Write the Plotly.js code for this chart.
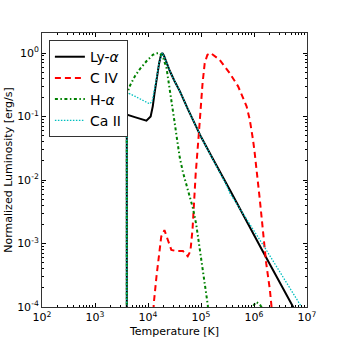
<!DOCTYPE html>
<html>
<head>
<meta charset="utf-8">
<script src="https://cdn.plot.ly/plotly-3.0.1.min.js"></script>
<style>html,body{margin:0;padding:0;background:#fff;}#chart{width:342px;height:342px;}</style>
</head>
<body>
<div id="chart"></div>
<script>
// Values, stored as log10(T [K]) and log10(L)
var lyaLogT  = [3.6, 3.6, 3.75, 3.9, 3.97, 4.05, 4.09, 4.12, 4.16, 4.21, 4.24, 4.27, 4.3, 4.35, 4.41, 4.5, 4.6, 4.75, 4.91, 5.0, 5.2, 5.48, 5.54, 6.17, 6.735, 7.0];
var lyaLogL  = [-8, -0.97, -1.01, -1.05, -1.066, -1.0, -0.84, -0.65, -0.42, -0.16, -0.05, 0, -0.04, -0.15, -0.28, -0.44, -0.6, -0.88, -1.18, -1.32, -1.63, -2.05, -2.15, -3.13, -3.99, -4.4];

var civLogT  = [4.08, 4.107, 4.16, 4.21, 4.25, 4.31, 4.38, 4.44, 4.53, 4.66, 4.75, 4.80, 4.84, 4.86, 4.9, 4.96, 4.99, 5.03, 5.07, 5.12, 5.18, 5.35, 5.54, 5.70, 5.86, 5.92, 5.98, 6.01, 6.11, 6.17, 6.23, 6.3, 6.33, 6.36];
var civLogL  = [-8, -3.96, -3.52, -3.15, -2.89, -2.79, -2.94, -3.10, -3.12, -3.12, -3.2, -3.12, -2.78, -2.47, -1.9, -1.26, -0.84, -0.47, -0.16, -0.03, 0, -0.105, -0.315, -0.525, -0.84, -1.05, -1.36, -1.55, -2.31, -2.78, -3.31, -3.73, -3.99, -8];

var haLogT   = [3.6, 3.6, 3.65, 3.75, 3.84, 3.97, 4.09, 4.16, 4.22, 4.28, 4.35, 4.41, 4.46, 4.50, 4.55, 4.6, 4.66, 4.72, 4.79, 4.85, 4.91, 4.975, 5.04, 5.1, 5.13, 5.16, 5.9, 5.97, 6.01, 6.04, 6.08, 6.11, 6.14, 6.2];
var haLogL   = [-8, -0.66, -0.53, -0.37, -0.26, -0.13, -0.03, -0.005, 0, -0.06, -0.24, -0.55, -0.86, -1.08, -1.37, -1.65, -1.88, -2.05, -2.25, -2.45, -2.7, -3.1, -3.5, -3.85, -3.98, -8, -8, -4.0, -3.95, -3.92, -3.94, -3.96, -4.0, -8];

var caLogT   = [3.6, 3.6, 3.75, 3.9, 4.03, 4.08, 4.12, 4.16, 4.21, 4.27, 4.3, 4.35, 4.41, 4.5, 4.6, 4.75, 4.91, 5.0, 5.2, 5.48, 5.54, 6.23, 6.89, 7.0];
var caLogL   = [-8, -0.62, -0.68, -0.75, -0.80, -0.76, -0.6, -0.40, -0.15, 0, -0.04, -0.15, -0.28, -0.44, -0.6, -0.88, -1.18, -1.32, -1.64, -2.08, -2.2, -3.1, -3.99, -4.13];

var seriesNames = ['Ly-<i>α</i>', 'C IV', 'H-<i>α</i>', 'Ca II'];
var xTickVals = [1e2, 1e3, 1e4, 1e5, 1e6, 1e7];
var xTickText = ['10<sup>2</sup>', '10<sup>3</sup>', '10<sup>4</sup>', '10<sup>5</sup>', '10<sup>6</sup>', '10<sup>7</sup>'];
var yTickVals = [1e-4, 1e-3, 1e-2, 1e-1, 1e0];
var yTickText = ['10<sup>-4</sup>', '10<sup>-3</sup>', '10<sup>-2</sup>', '10<sup>-1</sup>', '10<sup>0</sup>'];

function p10(a) { return a.map(function (v) { return Math.pow(10, v); }); }

var traces = [
  {x: p10(lyaLogT), y: p10(lyaLogL), name: seriesNames[0], mode: 'lines',
   line: {color: '#000000', width: 2}},
  {x: p10(civLogT), y: p10(civLogL), name: seriesNames[1], mode: 'lines',
   line: {color: '#ff0000', width: 2, dash: '6px,4px'}},
  {x: p10(haLogT), y: p10(haLogL), name: seriesNames[2], mode: 'lines',
   line: {color: '#008000', width: 2, dash: '3px,2.5px,1.5px,2.5px'}},
  {x: p10(caLogT), y: p10(caLogL), name: seriesNames[3], mode: 'lines',
   line: {color: '#00bfbf', width: 1.3, dash: '1.5px,1.5px'}}
];

var fontFam = 'DejaVu Sans, sans-serif';
var minorTicks = {ticks: 'inside', ticklen: 2, tickcolor: '#000', dtick: 'D1', showgrid: false};
var layout = {
  width: 342, height: 342,
  margin: {l: 42, r: 35, t: 33, b: 35, pad: 0},
  paper_bgcolor: '#ffffff', plot_bgcolor: '#ffffff',
  font: {family: fontFam, size: 11, color: '#000'},
  showlegend: true,
  legend: {x: 0.026, y: 0.974, xanchor: 'left', yanchor: 'top',
           bgcolor: '#ffffff', bordercolor: '#333333', borderwidth: 1, itemwidth: 30,
           font: {family: fontFam, size: 14, color: '#000'}},
  xaxis: {type: 'log', range: [2, 7], tickvals: xTickVals, ticktext: xTickText,
          ticks: 'inside', ticklen: 4, tickcolor: '#000', showgrid: false, zeroline: false,
          showline: true, linecolor: '#333', linewidth: 1, mirror: 'ticks',
          minor: minorTicks,
          tickfont: {family: fontFam, size: 11},
          title: {text: 'Temperature [K]', font: {family: fontFam, size: 11}, standoff: 4}},
  yaxis: {type: 'log', range: [-4, 0.315], tickvals: yTickVals, ticktext: yTickText,
          ticks: 'inside', ticklen: 4, tickcolor: '#000', showgrid: false, zeroline: false,
          showline: true, linecolor: '#333', linewidth: 1, mirror: 'ticks',
          minor: minorTicks,
          tickfont: {family: fontFam, size: 11},
          title: {text: 'Normalized Luminosity [erg/s]', font: {family: fontFam, size: 11}, standoff: 2}}
};

Plotly.newPlot('chart', traces, layout, {displayModeBar: false, staticPlot: true});
</script>
</body>
</html>
